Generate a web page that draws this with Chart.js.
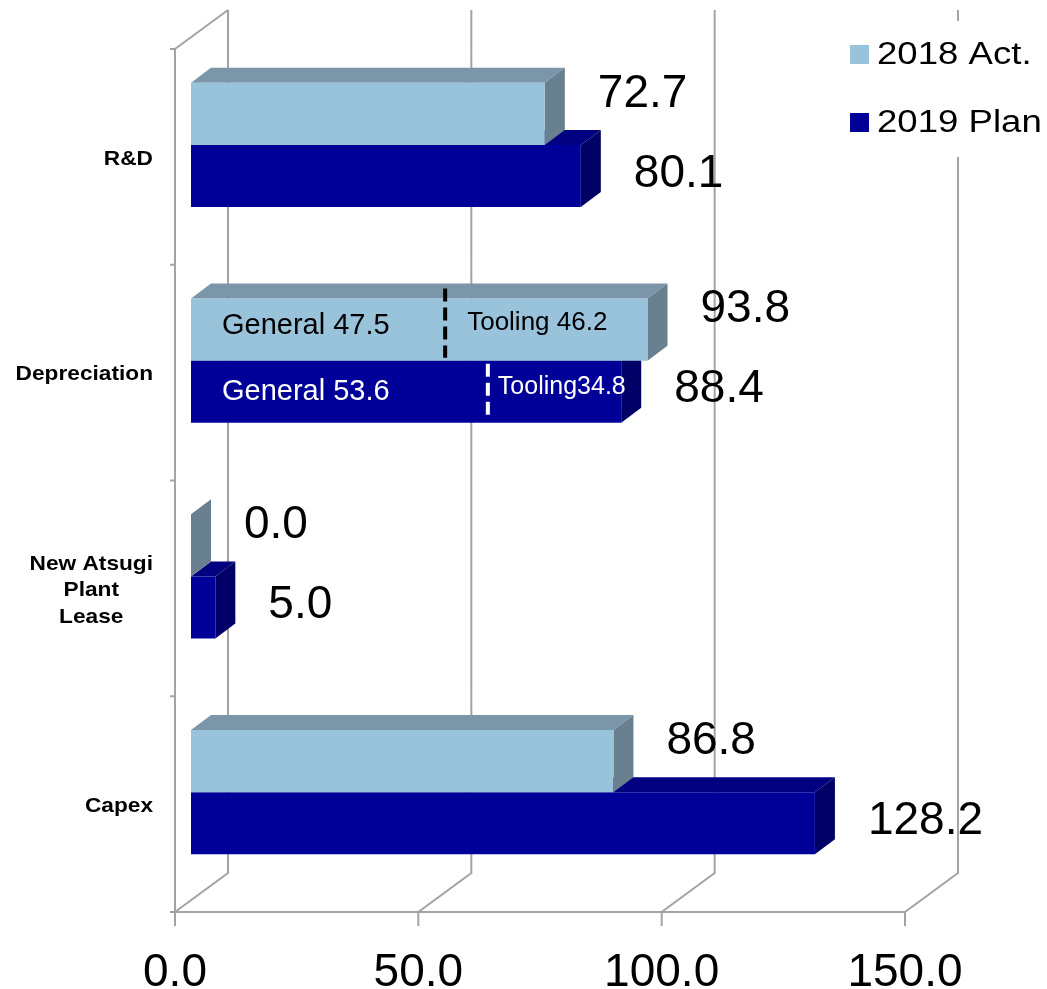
<!DOCTYPE html>
<html>
<head>
<meta charset="utf-8">
<title>R&amp;D / Depreciation / Capex</title>
<script src="https://cdn.jsdelivr.net/npm/chart.js@4.4.1/dist/chart.umd.min.js"></script>
<style>
  html, body { margin: 0; padding: 0; background: #fff; }
  canvas { display: block; }
</style>
</head>
<body>
<canvas id="costChart" width="1047" height="989"></canvas>
<script>
// categories, top to bottom
const categories = ['R&D', 'Depreciation', ['New Atsugi', 'Plant', 'Lease'], 'Capex'];
const act2018 = [72.7, 93.8, 0.0, 86.8];
const plan2019 = [80.1, 88.4, 5.0, 128.2];
// depreciation breakdown [2018, 2019]
const deprGeneral = [47.5, 53.6];
const deprTooling = [46.2, 34.8];
const xTicks = [0, 50, 100, 150];

const FONT = 'Arial, "Liberation Sans", sans-serif';

// fake 3d: bar depth, floor depth, and the front edge relative to the bar faces
const DEPTH = { dx: 20, dy: -15 };
const WALL = { dx: 53, dy: -39 };
const FRONT = { dx: -16, dy: 12 };

const faces = [
    { front: '#99c2db', top: '#7a96a8', side: '#68808f', text: '#000' },
    { front: '#000099', top: '#000080', side: '#000066', text: '#fff' }
];

function poly(ctx, pts, color) {
    ctx.beginPath();
    ctx.moveTo(pts[0][0], pts[0][1]);
    for (let i = 1; i < pts.length; i++) ctx.lineTo(pts[i][0], pts[i][1]);
    ctx.closePath();
    ctx.fillStyle = color;
    ctx.fill();
}

function barBox(bar) {
    const p = bar.getProps(['x', 'y', 'base', 'height'], true);
    return { end: p.x, base: p.base, top: p.y - p.height / 2, bottom: p.y + p.height / 2, mid: p.y };
}

const box3d = {
    id: 'box3d',
    beforeDatasetsDraw(chart) {
        const { ctx, chartArea: a, scales: { x, y } } = chart;
        ctx.save();
        ctx.strokeStyle = '#a3a3a3';
        ctx.lineWidth = 2;
        const floorY = a.bottom + FRONT.dy;
        const topY = a.top + FRONT.dy;
        const x0 = x.getPixelForValue(0) + FRONT.dx;
        const xEnd = x.getPixelForValue(150) + FRONT.dx;
        ctx.beginPath();
        xTicks.forEach(v => {
            const fx = x.getPixelForValue(v) + FRONT.dx;
            const bx = fx + WALL.dx;
            ctx.moveTo(bx, topY + WALL.dy);
            ctx.lineTo(bx, floorY + WALL.dy);
            ctx.lineTo(fx, floorY);
            ctx.lineTo(fx, floorY + 14);
        });
        ctx.moveTo(x0 - 5, floorY);
        ctx.lineTo(xEnd, floorY);
        // left wall
        ctx.moveTo(x0 + WALL.dx, topY + WALL.dy);
        ctx.lineTo(x0, topY);
        ctx.lineTo(x0, floorY);
        for (let i = 0; i <= categories.length; i++) {
            const yy = y.getPixelForValue(i - 0.5) + FRONT.dy;
            ctx.moveTo(x0 - 5, yy);
            ctx.lineTo(x0, yy);
        }
        ctx.stroke();

        // top and side faces, the flat fronts come from chart.js
        [1, 0].forEach(di => {
            const c = faces[di];
            chart.getDatasetMeta(di).data.forEach(bar => {
                const b = barBox(bar);
                poly(ctx, [[b.base, b.top], [b.end, b.top], [b.end + DEPTH.dx, b.top + DEPTH.dy], [b.base + DEPTH.dx, b.top + DEPTH.dy]], c.top);
                poly(ctx, [[b.end, b.top], [b.end + DEPTH.dx, b.top + DEPTH.dy], [b.end + DEPTH.dx, b.bottom + DEPTH.dy], [b.end, b.bottom]], c.side);
            });
        });
        ctx.restore();
    },
    afterDatasetsDraw(chart) {
        const { ctx, scales: { x, y } } = chart;
        ctx.save();

        // depreciation split: divider + general / tooling
        const dividerShift = [23, 36];
        const generalSize = [29, 29];
        const toolingSize = [26, 25];
        const toolingGap = [22, 10];
        [0, 1].forEach(di => {
            const b = barBox(chart.getDatasetMeta(di).data[1]);
            const c = faces[di];
            const dx = x.getPixelForValue(deprGeneral[di]) + dividerShift[di];
            ctx.strokeStyle = c.text;
            ctx.lineWidth = 4;
            ctx.setLineDash([13, 6]);
            ctx.beginPath();
            ctx.moveTo(dx, di === 0 ? b.top - 10 : b.top + 3);
            ctx.lineTo(dx, b.bottom - 3);
            ctx.stroke();
            ctx.setLineDash([]);
            ctx.fillStyle = c.text;
            ctx.textAlign = 'left';
            ctx.textBaseline = 'middle';
            ctx.font = generalSize[di] + 'px ' + FONT;
            ctx.fillText('General ' + deprGeneral[di].toFixed(1), b.base + 31, b.mid - (di === 0 ? 4 : 0));
            ctx.font = toolingSize[di] + 'px ' + FONT;
            const tl = di === 0 ? 'Tooling ' : 'Tooling';
            ctx.fillText(tl + deprTooling[di].toFixed(1), dx + toolingGap[di], b.mid - (di === 0 ? 7 : 5));
        });

        // value labels
        ctx.fillStyle = '#000';
        ctx.font = '46px ' + FONT;
        ctx.textAlign = 'left';
        ctx.textBaseline = 'middle';
        const lift = [-20, -2];
        chart.data.datasets.forEach((ds, di) => {
            chart.getDatasetMeta(di).data.forEach((bar, i) => {
                const b = barBox(bar);
                ctx.fillText(ds.data[i].toFixed(1), b.end + 53, b.mid + lift[di]);
            });
        });

        // category labels, centred lines in a right aligned block
        ctx.font = 'bold 21px ' + FONT;
        ctx.textAlign = 'center';
        const sx = 1.08;
        const right = x.getPixelForValue(0) + FRONT.dx - 22;
        categories.forEach((lab, i) => {
            const lines = Array.isArray(lab) ? lab : [lab];
            const w = Math.max(...lines.map(l => ctx.measureText(l).width)) * sx;
            const cy = y.getPixelForValue(i) + FRONT.dy + 2;
            const lh = 26.5;
            lines.forEach((l, k) => {
                const ly = cy + (k - (lines.length - 1) / 2) * lh;
                ctx.save();
                ctx.translate(right - w / 2, ly);
                ctx.scale(sx, 1);
                ctx.fillText(l, 0, 0);
                ctx.restore();
            });
        });

        // legend
        ctx.fillStyle = '#fff';
        ctx.fillRect(838, 21, 209, 136);
        ctx.font = '31px ' + FONT;
        ctx.textAlign = 'left';
        chart.data.datasets.forEach((ds, di) => {
            const ly = 54 + di * 68;
            ctx.fillStyle = ds.backgroundColor;
            ctx.fillRect(850, ly - 9, 19, 19);
            ctx.fillStyle = '#000';
            ctx.save();
            ctx.translate(877, ly);
            ctx.scale(1.18, 1);
            ctx.fillText(ds.label, 0, 1);
            ctx.restore();
        });
        ctx.restore();
    }
};

new Chart(document.getElementById('costChart'), {
    type: 'bar',
    data: {
        labels: categories,
        datasets: [
            { label: '2018 Act.', data: act2018, backgroundColor: faces[0].front },
            { label: '2019 Plan', data: plan2019, backgroundColor: faces[1].front }
        ]
    },
    options: {
        indexAxis: 'y',
        responsive: false,
        animation: false,
        layout: { padding: { top: 37, right: 126, left: 0, bottom: 0 } },
        datasets: { bar: { categoryPercentage: 0.575, barPercentage: 1 } },
        plugins: { legend: { display: false }, tooltip: { enabled: false } },
        scales: {
            x: {
                min: 0,
                max: 150,
                grid: { display: false },
                border: { display: false },
                ticks: {
                    stepSize: 50,
                    callback: v => v.toFixed(1),
                    color: '#000',
                    font: { family: FONT, size: 46 },
                    labelOffset: FRONT.dx,
                    padding: 38,
                    maxRotation: 0
                },
                afterFit: s => { s.height = 89; }
            },
            y: {
                grid: { display: false },
                border: { display: false },
                ticks: { display: false },
                afterFit: s => { s.width = 191; }
            }
        }
    },
    plugins: [box3d]
});
</script>
</body>
</html>
